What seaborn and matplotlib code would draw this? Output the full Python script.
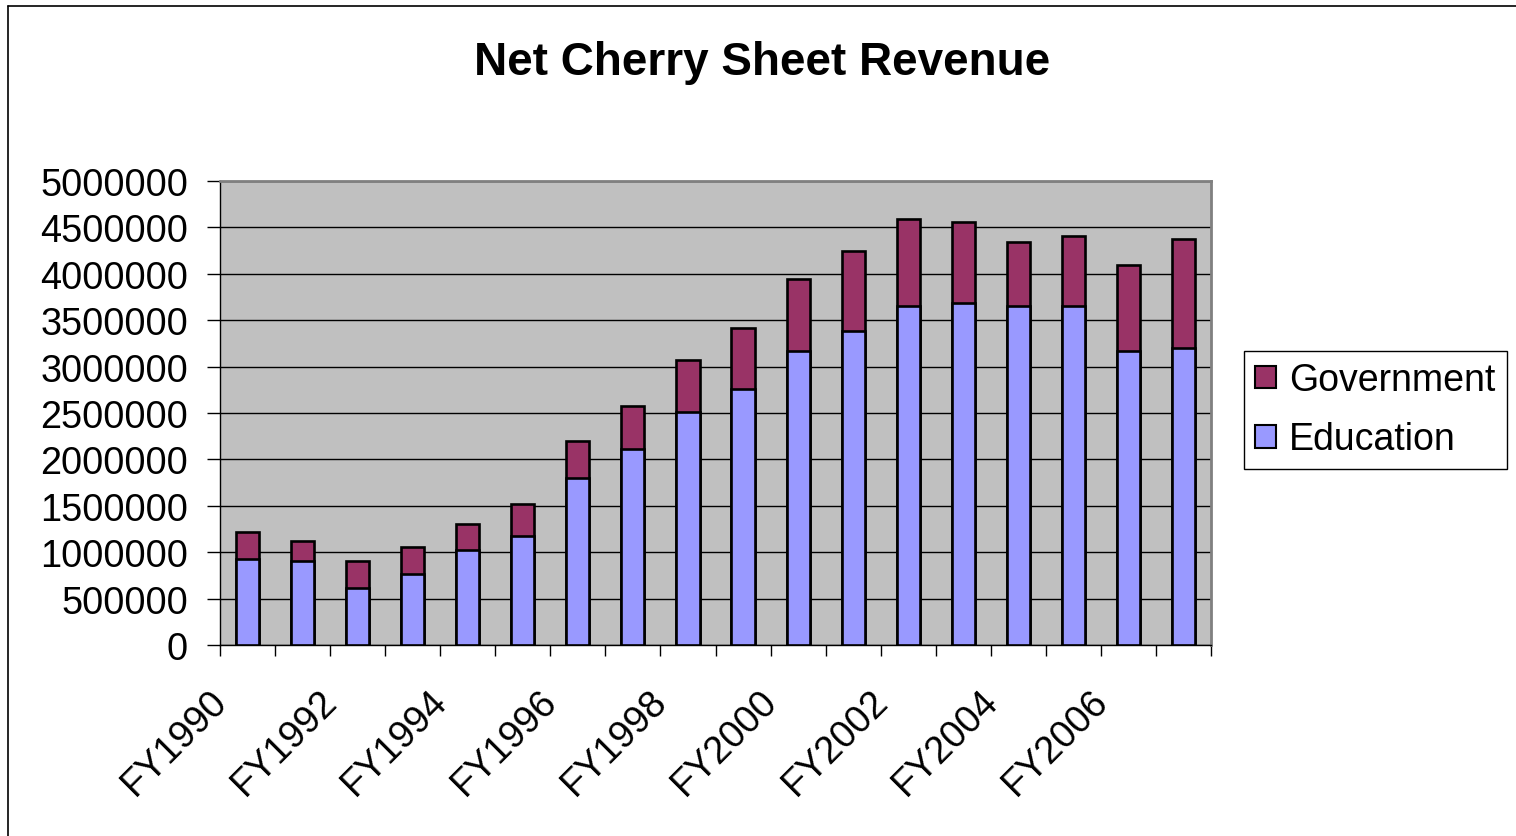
import matplotlib
matplotlib.use("Agg")
import matplotlib.pyplot as plt
import matplotlib.transforms as mtransforms
from matplotlib.patches import Patch
from matplotlib.lines import Line2D
import seaborn as sns
import pandas as pd
import numpy as np

years = ["FY1990", "FY1991", "FY1992", "FY1993", "FY1994", "FY1995", "FY1996", "FY1997", "FY1998",
         "FY1999", "FY2000", "FY2001", "FY2002", "FY2003", "FY2004", "FY2005", "FY2006", "FY2007"]
education = [927000, 902000, 618000, 769000, 1020000, 1178000, 1796000, 2112000, 2507000,
             2759000, 3165000, 3380000, 3657000, 3689000, 3657000, 3657000, 3165000, 3197000]
government = [287000, 215000, 284000, 287000, 284000, 341000, 406000, 460000, 561000,
              653000, 779000, 869000, 934000, 873000, 689000, 750000, 933000, 1178000]
series_names = ["Government", "Education"]
ytick_values = list(range(0, 5000001, 500000))

edu_color = "#9999FF"
gov_color = "#993366"

totals = [e + g for e, g in zip(education, government)]
df = pd.DataFrame({"year": years, "Education": education, "Total": totals})

sns.set_theme(style="white")
plt.rcParams["font.family"] = ["Liberation Sans", "DejaVu Sans"]
plt.rcParams["text.color"] = "black"
plt.rcParams["xtick.color"] = "black"
plt.rcParams["ytick.color"] = "black"
plt.rcParams["xtick.labelcolor"] = "black"
plt.rcParams["ytick.labelcolor"] = "black"

W, H = 1516, 837
fig = plt.figure(figsize=(W / 100, H / 100), dpi=100)
ax = fig.add_axes([220 / W, 1 - 646 / H, (1211 - 220) / W, (646 - 182) / H])
ax.set_facecolor("#C0C0C0")

bar_kw = dict(width=0.42, edgecolor="black", linewidth=1.9, saturation=1, ax=ax, zorder=3)
sns.barplot(data=df, x="year", y="Total", color=gov_color, **bar_kw)
sns.barplot(data=df, x="year", y="Education", color=edu_color, **bar_kw)

ax.set_xlim(-0.5, len(years) - 0.5)
ax.set_ylim(0, 5000000)
ax.set_yticks(ytick_values)
ax.set_yticklabels([str(v) for v in ytick_values], fontsize=27.3, color="black")
ax.yaxis.grid(True, color="#000000", linewidth=1.0, zorder=0)
ax.set_axisbelow(True)
ax.tick_params(axis="y", which="major", direction="out", length=9.5, width=1, color="black",
               left=True, pad=13.5)

major_idx = list(range(0, len(years), 2))
ax.set_xticks(major_idx)
ax.set_xticklabels([years[i] for i in major_idx], fontsize=27.3, rotation=45,
                   ha="right", va="center", rotation_mode="anchor", color="black")
ax.set_xticks(np.arange(-0.5, len(years), 1.0), minor=True)
ax.tick_params(axis="x", which="major", length=0, pad=36)
ax.tick_params(axis="x", which="minor", direction="out", length=8, width=1, color="black", bottom=True)
offset = mtransforms.ScaledTranslation(-26 / 100, 0, fig.dpi_scale_trans)
for lbl in ax.get_xticklabels():
    lbl.set_transform(lbl.get_transform() + offset)

ax.set_xlabel("")
ax.set_ylabel("")

for side in ["top", "right"]:
    ax.spines[side].set_color("#808080")
    ax.spines[side].set_linewidth(2)
for side in ["left", "bottom"]:
    ax.spines[side].set_color("#000000")
    ax.spines[side].set_linewidth(1)
    ax.spines[side].set_visible(True)

fig.text(762 / W, 1 - 63 / H, "Net Cherry Sheet Revenue", ha="center", va="center",
         fontsize=33, fontweight="bold", color="black")

handles = [Patch(facecolor=gov_color, edgecolor="black", linewidth=1.5),
           Patch(facecolor=edu_color, edgecolor="black", linewidth=1.5)]
leg = fig.legend(handles, series_names, loc="upper left",
                 bbox_to_anchor=(1244 / W, 1 - 352 / H), fontsize=27,
                 frameon=True, fancybox=False, edgecolor="black", framealpha=1,
                 handlelength=0.55, handleheight=0.55, handletextpad=0.35,
                 labelspacing=0.62, borderpad=0.3, borderaxespad=0)
leg.get_frame().set_linewidth(1)
for t in leg.get_texts():
    t.set_color("black")

fig.add_artist(Line2D([8 / W, 8 / W], [0, 1 - 7 / H], color="black", linewidth=1.2,
                      transform=fig.transFigure))
fig.add_artist(Line2D([8 / W, 1], [1 - 7 / H, 1 - 7 / H], color="black", linewidth=1.2,
                      transform=fig.transFigure))

fig.savefig("out.png", dpi=100)
